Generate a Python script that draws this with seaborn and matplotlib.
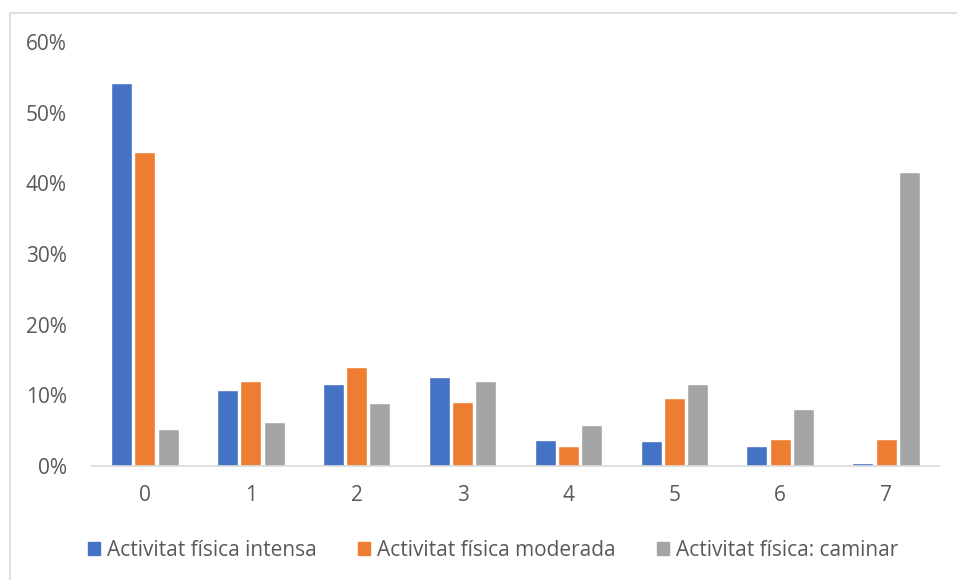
import pandas as pd
import numpy as np
import matplotlib.pyplot as plt
import seaborn as sns
from matplotlib.lines import Line2D
from matplotlib.ticker import PercentFormatter

# Data (percent of respondents by number of days)
days = ["0", "1", "2", "3", "4", "5", "6", "7"]
intensa = [54.2, 10.7, 11.6, 12.6, 3.7, 3.6, 2.8, 0.4]
moderada = [44.4, 12.0, 14.0, 9.1, 2.8, 9.6, 3.8, 3.8]
caminar = [5.3, 6.2, 8.9, 12.0, 5.8, 11.6, 8.0, 41.6]
series = ["Activitat física intensa", "Activitat física moderada", "Activitat física: caminar"]
colors = ["#4472C4", "#ED7D31", "#A5A5A5"]

df = pd.DataFrame({"dies": days, series[0]: intensa, series[1]: moderada, series[2]: caminar})
df_long = df.melt(id_vars="dies", var_name="tipus", value_name="pct")

sns.set_style("white")
plt.rcParams['font.family'] = ['Open Sans', 'DejaVu Sans']

fig = plt.figure(figsize=(9.57, 5.8), dpi=100)
ax = fig.add_axes([92/957, 1 - 466/580, (939-92)/957, (466-42)/580])

sns.barplot(data=df_long, x="dies", y="pct", hue="tipus", palette=colors,
            saturation=1, width=0.66, gap=0.1, ax=ax, legend=False)

ax.set_ylim(0, 60)
ax.set_xlim(-0.5, 7.5)
ax.set_yticks(np.arange(0, 61, 10))
ax.yaxis.set_major_formatter(PercentFormatter(decimals=0))
ax.tick_params(axis="both", colors="#595959", labelsize=15, length=0)
ax.tick_params(axis="y", pad=18)
ax.tick_params(axis="x", pad=14)
ax.set_xlabel("")
ax.set_ylabel("")
for side in ["top", "right", "left"]:
    ax.spines[side].set_visible(False)
ax.spines["bottom"].set_color("#D9D9D9")
ax.spines["bottom"].set_linewidth(1.2)

# chart area border (top + left)
fig.add_artist(Line2D([10/957, 1], [1 - 13/580, 1 - 13/580], color="#D9D9D9", lw=1.2))
fig.add_artist(Line2D([10/957, 10/957], [0, 1 - 13/580], color="#D9D9D9", lw=1.2))

handles = [plt.Rectangle((0, 0), 1, 1, color=c) for c in colors]
fig.legend(handles, series, loc="center", bbox_to_anchor=(0.515, 1 - 550/580), ncol=3,
           frameon=False, fontsize=15, labelcolor="#595959", handlelength=0.6,
           handleheight=0.6, handletextpad=0.3, columnspacing=2.0)

fig.savefig("out.png", dpi=100)
